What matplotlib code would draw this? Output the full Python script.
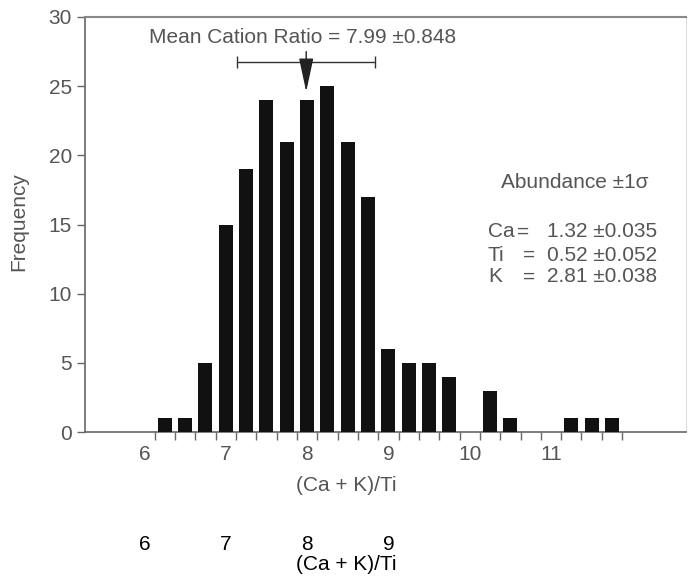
import numpy as np
import matplotlib
matplotlib.use('Agg')
import matplotlib.pyplot as plt

# ---------------- data ----------------
bin_centers = [6.25, 6.5, 6.75, 7.0, 7.25, 7.5, 7.75, 8.0, 8.25, 8.5, 8.75,
               9.0, 9.25, 9.5, 9.75, 10.0, 10.25, 10.5, 10.75, 11.0, 11.25, 11.5, 11.75]
counts = [1, 1, 5, 15, 19, 24, 21, 24, 25, 21, 17,
          6, 5, 5, 4, 0, 3, 1, 0, 0, 1, 1, 1]
x_tick_vals = [6, 7, 8, 9, 10, 11]
y_tick_vals = [0, 5, 10, 15, 20, 25, 30]

mean_ratio = 7.99
sd_ratio = 0.848

elements = ['Ca', 'Ti', 'K']
abund = ['1.32', '0.52', '2.81']
abund_sd = ['0.035', '0.052', '0.038']

extra_ticks = [6, 7, 8, 9]   # stray labels under the figure

grey = '#555555'
fs = 15
plt.rcParams['font.family'] = ['Liberation Sans', 'DejaVu Sans']

fig = plt.figure(figsize=(6.91, 5.77), dpi=100)
ax = fig.add_axes([85 / 691, 1 - 432 / 577, 601 / 691, 415 / 577])

ax.bar(bin_centers, counts, width=0.175, color='#111111', zorder=3)

ax.set_xlim(5.27, 12.66)
ax.set_ylim(0, 30)

# axis styling
for side in ['left', 'bottom']:
    ax.spines[side].set_color('#666666')
    ax.spines[side].set_linewidth(1.2)
ax.spines['top'].set_color('#888888')
ax.spines['top'].set_linewidth(1.5)
ax.spines['right'].set_color('#dddddd')
ax.spines['right'].set_linewidth(0.8)

ax.set_yticks(y_tick_vals)
ax.tick_params(axis='y', length=5.8, width=1, color='#666666', pad=3.5,
               labelsize=fs, labelcolor=grey)

edges = np.arange(6.125, 12.0, 0.25)
ax.set_xticks(x_tick_vals)
ax.set_xticks(edges, minor=True)
ax.tick_params(axis='x', which='major', length=0, pad=9, labelsize=fs, labelcolor=grey)
ax.tick_params(axis='x', which='minor', length=5.5, width=1, color='#666666')

ax.set_xlabel('(Ca + K)/Ti', fontsize=fs, color=grey)
ax.xaxis.set_label_coords(0.434, -0.105)
ax.set_ylabel('Frequency', fontsize=fs, color=grey)
ax.yaxis.set_label_coords(-0.095, 0.506)

# mean marker
ax.text(mean_ratio - 0.05, 28.5, 'Mean Cation Ratio = %.2f \u00b1%.3f' % (mean_ratio, sd_ratio),
        ha='center', va='center', fontsize=fs, color=grey)
ax.errorbar(mean_ratio, 26.75, xerr=sd_ratio, color='#333333', lw=1, capsize=4, capthick=1)
ax.annotate('', xy=(mean_ratio, 24.6), xytext=(mean_ratio, 27.5),
            arrowprops=dict(arrowstyle='-|>,head_length=2.1,head_width=0.45',
                            mutation_scale=10, color='#222222', lw=1,
                            shrinkA=0, shrinkB=0))

# abundance block
ax.text(0.815, 0.6, 'Abundance \u00b11\u03c3', transform=ax.transAxes,
        ha='center', va='center', fontsize=fs, color=grey)
rows_y = [0.482, 0.4265, 0.3735]
eq_x = [0.719, 0.729, 0.729]
for el, a, s, yy, ex in zip(elements, abund, abund_sd, rows_y, eq_x):
    ax.text(0.6705, yy, el, transform=ax.transAxes, ha='left', va='center',
            fontsize=fs, color=grey)
    ax.text(ex, yy, '=', transform=ax.transAxes, ha='left', va='center',
            fontsize=fs, color=grey)
    ax.text(0.769, yy, a + ' \u00b1' + s, transform=ax.transAxes, ha='left',
            va='center', fontsize=fs, color=grey)

# stray black labels below the chart
trans = ax.get_xaxis_transform()
for v in extra_ticks:
    ax.text(v, -0.272, str(v), transform=trans, ha='center', va='center',
            fontsize=15, color='black')
ax.text(8.48, -0.32, '(Ca + K)/Ti', transform=trans, ha='center', va='center',
        fontsize=15, color='black')

fig.savefig('out.png', dpi=100)
